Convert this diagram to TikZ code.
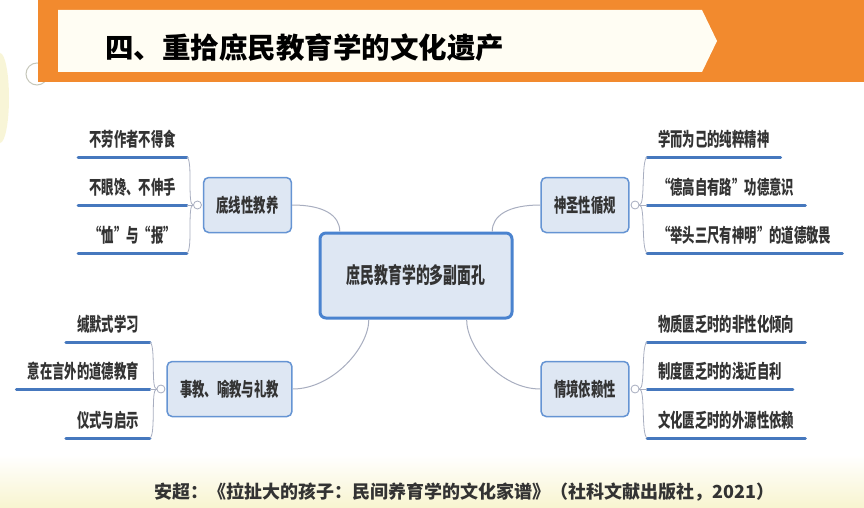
\documentclass[tikz,border=0pt]{standalone}
\usepackage{fontspec}
\setmainfont{Noto Sans CJK SC}
\usetikzlibrary{positioning,calc}
\definecolor{Banner}{HTML}{F28A2E}
\definecolor{Cream}{HTML}{FFFDF3}
\definecolor{Glow}{HTML}{F3EDB0}
\definecolor{NodeFill}{HTML}{DEE7F3}
\definecolor{NodeLine}{HTML}{6594D3}
\definecolor{HubLine}{HTML}{4A83CF}
\definecolor{LeafBlue}{HTML}{4678BE}
\definecolor{LinkGray}{HTML}{A8AEC0}
\definecolor{Ink}{HTML}{333333}
\newcommand{\narrow}[2][.65]{\scalebox{#1}[1]{#2}}

\begin{document}
\begin{tikzpicture}[x=1pt, y=-1pt, text=Ink,
  hub/.style={draw=HubLine, line width=3pt, fill=NodeFill, rounded corners=6pt, minimum width=192pt, minimum height=85pt, font=\bfseries\fontsize{22}{22}\selectfont},
  branch/.style={draw=NodeLine, line width=1.5pt, fill=NodeFill, rounded corners=5pt, inner xsep=13pt, minimum height=55pt, font=\bfseries\fontsize{19}{19}\selectfont},
  leaf/.style={inner xsep=11pt, inner ysep=8pt, font=\bfseries\fontsize{19}{19}\selectfont},
  leafline/.style={draw=LeafBlue, line width=3pt, line cap=round},
  knob/.style={circle, draw=LinkGray, line width=.8pt, fill=white, inner sep=0pt, minimum size=8pt},
  brace/.style={draw=LinkGray, line width=.8pt},
  link/.style={draw=LinkGray, line width=1pt}]
\useasboundingbox (0,0) rectangle (864,508);
\fill[white] (0,0) rectangle (864,508);
\shade[top color=white, bottom color=Glow!60] (0,455) rectangle (864,508);
\fill[Glow, opacity=.5] (0,98) ellipse [x radius=9, y radius=45];
\draw[LinkGray!60!Glow, line width=1pt] (37,74) circle [radius=11];

% title banner
\fill[Banner] (38,0) rectangle (864,82);
\fill[Cream] (58,10) -- (702,10) -- (717,41) -- (702,72) -- (58,72) -- cycle;
\node[anchor=west, inner sep=0pt, font=\bfseries\fontsize{28.5}{28.5}\selectfont, text=black] (head) at (105,48) {四、重拾庶民教育学的文化遗产};

% mind map
\node[hub] (ctr) at (416,275.5) {\narrow[.63]{庶民教育学的多副面孔}};
\node[branch] (tl) at (247.5,205) {\narrow{底线性教养}};
\node[branch] (tr) at (585,205) {\narrow{神圣性循规}};
\node[branch] (bl) at (229.5,389) {\narrow{事教、喻教与礼教}};
\node[branch] (br) at (585,389) {\narrow{情境依赖性}};

\node[knob, left=1pt of tl] (tlk) {};
\node[knob, right=1pt of tr] (trk) {};
\node[knob, left=1pt of bl] (blk) {};
\node[knob, right=1pt of br] (brk) {};

\node[leaf, anchor=south east] (tl1) at (187,157) {\narrow{不劳作者不得食}};
\node[leaf, anchor=south east] (tl2) at (187,205) {\narrow{不眼馋、不伸手}};
\node[leaf, anchor=south east] (tl3) at (187,253) {\narrow{“恤”与“报”}};
\node[leaf, anchor=south west] (tr1) at (647,157) {\narrow{学而为己的纯粹精神}};
\node[leaf, anchor=south west] (tr2) at (647,205) {\narrow{“德高自有路”功德意识}};
\node[leaf, anchor=south west] (tr3) at (647,253) {\narrow{“举头三尺有神明”的道德敬畏}};
\node[leaf, anchor=south east] (bl1) at (150,342) {\narrow{缄默式学习}};
\node[leaf, anchor=south east] (bl2) at (150,389) {\narrow{意在言外的道德教育}};
\node[leaf, anchor=south east] (bl3) at (150,438) {\narrow{仪式与启示}};
\node[leaf, anchor=south west] (br1) at (647,342) {\narrow{物质匮乏时的非性化倾向}};
\node[leaf, anchor=south west] (br2) at (647,389) {\narrow{制度匮乏时的浅近自利}};
\node[leaf, anchor=south west] (br3) at (647,438) {\narrow{文化匮乏时的外源性依赖}};

\foreach \n in {tl1,tl2,tl3,tr1,tr2,tr3,bl1,bl2,bl3,br1,br2,br3}
  \draw[leafline] (\n.south west) -- (\n.south east);

\foreach \k/\a/\b/\c in {tlk/tl1/tl2/tl3, blk/bl1/bl2/bl3} {
  \draw[brace] (\k.west) .. controls +(-6,0) and +(6,4) .. (\a.south east);
  \draw[brace] (\k.west) -- (\b.south east);
  \draw[brace] (\k.west) .. controls +(-6,0) and +(6,-4) .. (\c.south east);
}
\foreach \k/\a/\b/\c in {trk/tr1/tr2/tr3, brk/br1/br2/br3} {
  \draw[brace] (\k.east) .. controls +(6,0) and +(-6,4) .. (\a.south west);
  \draw[brace] (\k.east) -- (\b.south west);
  \draw[brace] (\k.east) .. controls +(6,0) and +(-6,-4) .. (\c.south west);
}

\draw[link] (tl.east) .. controls +(32,0) and +(0,-16) .. (ctr.150);
\draw[link] (ctr.30) .. controls +(0,-16) and +(-32,0) .. (tr.west);
\draw[link] (bl.east) .. controls +(40,0) and +(0,28) .. (ctr.223);
\draw[link] (ctr.319) .. controls +(0,28) and +(-40,0) .. (br.west);

% source
\node[font=\bfseries\fontsize{18}{18}\selectfont] (cite) at (464.5,492) {安超：《拉扯大的孩子：民间养育学的文化家谱》（社科文献出版社，2021）};
\end{tikzpicture}
\end{document}
